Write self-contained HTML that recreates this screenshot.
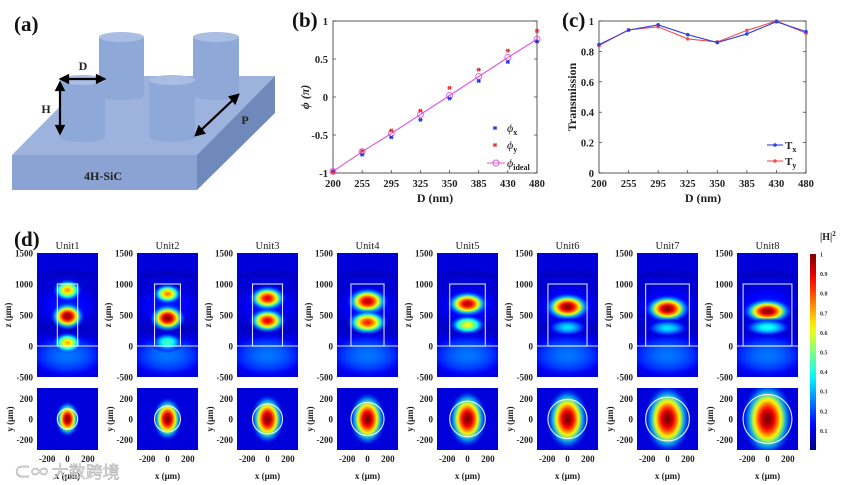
<!DOCTYPE html>
<html><head><meta charset="utf-8">
<style>
html,body{margin:0;padding:0;background:#fff;}
svg{display:block;font-family:"Liberation Serif","Noto Serif CJK SC",serif;}
.tk{font-size:10.5px;font-weight:bold;fill:#222;}
.tk9{font-size:9px;font-weight:bold;fill:#222;}
.lab{font-size:12px;font-weight:bold;fill:#222;}
.pl{font-size:21px;font-weight:bold;fill:#111;}
</style></head>
<body>
<svg id="fig" width="858" height="485" viewBox="0 0 858 485" xmlns="http://www.w3.org/2000/svg">
<defs id="defs"></defs>
<g>
<text class="pl" x="14" y="31">(a)</text>
<polygon points="12,155 90,76 275,76 197,155" fill="#9db2dc"/>
<polygon points="12,155 197,155 197,190 12,190" fill="#8aa3d3"/>
<polygon points="197,155 275,76 275,113 197,190" fill="#7089bb"/>
<g>
<rect x="99" y="37" width="45" height="58" fill="#8ea8d8"/><ellipse cx="121.5" cy="95" rx="22.5" ry="5" fill="#8ea8d8"/><ellipse cx="121.5" cy="37" rx="22.5" ry="5" fill="#aabde2"/></g>
<g>
<rect x="193" y="37" width="46" height="58" fill="#8ea8d8"/><ellipse cx="216" cy="95" rx="23" ry="5" fill="#8ea8d8"/><ellipse cx="216" cy="37" rx="23" ry="5" fill="#aabde2"/></g>
<g>
<rect x="60" y="80" width="45" height="57" fill="#8ea8d8"/><ellipse cx="82.5" cy="137" rx="22.5" ry="5" fill="#8ea8d8"/><ellipse cx="82.5" cy="80" rx="22.5" ry="5" fill="#aabde2"/></g>
<g>
<rect x="149" y="80" width="46" height="57" fill="#8ea8d8"/><ellipse cx="172" cy="137" rx="23" ry="5" fill="#8ea8d8"/><ellipse cx="172" cy="80" rx="23" ry="5" fill="#aabde2"/></g>
<g stroke="#000" stroke-width="2.2" fill="#000">
<line x1="65" y1="79" x2="100" y2="79"/><polygon points="61,79 68,75.5 68,82.5"/><polygon points="104,79 97,75.5 97,82.5"/>
<line x1="60" y1="87" x2="60" y2="129"/><polygon points="60,83 56.5,90 63.5,90"/><polygon points="60,133 56.5,126 63.5,126"/>
<line x1="199" y1="132" x2="235" y2="98"/><polygon points="196,135 199,127 204,133"/><polygon points="238,95 235,103 230,97"/>
</g>
<text class="lab" x="83" y="70" text-anchor="middle" font-size="14">D</text>
<text class="lab" x="46" y="113" text-anchor="middle" font-size="14">H</text>
<text class="lab" x="245" y="124" text-anchor="middle" font-size="14">P</text>
<text class="lab" x="103" y="180" text-anchor="middle" font-size="14" fill="#1a2a4a">4H-SiC</text>
</g>
<g id="pb">
<text class="pl" x="292" y="27">(b)</text>
</g>
<g id="pc">
<text class="pl" x="562" y="27">(c)</text>
</g>
<g id="pd">
<text class="pl" x="14" y="246">(d)</text>
</g>
<text x="14" y="478" font-size="17" fill="#ddd" fill-opacity="0.75" stroke="#999" stroke-width="0.4" font-family="Noto Sans CJK SC, sans-serif">⊂∞ 大数跨境</text>
</svg>
<script>
const NS="http://www.w3.org/2000/svg";
const categories=["200","255","295","325","350","385","430","480"];
const phiX=[-0.98,-0.76,-0.53,-0.30,-0.02,0.21,0.46,0.73];
const phiY=[-0.99,-0.71,-0.44,-0.18,0.12,0.36,0.61,0.87];
const phiIdeal=[-0.98,-0.72,-0.48,-0.23,0.02,0.27,0.52,0.76];
const phiTicks=[1,0.5,0,-0.5,-1];
const phiTickLabels=["1","0.5","0","-0.5","-1"];
const tX=[0.845,0.94,0.975,0.91,0.858,0.915,0.995,0.93];
const tY=[0.838,0.942,0.962,0.882,0.862,0.938,1.0,0.92];
const tTicks=[0,0.2,0.4,0.6,0.8,1];
const tTickLabels=["0","0.2","0.4","0.6","0.8","1"];
const unitNames=["Unit1","Unit2","Unit3","Unit4","Unit5","Unit6","Unit7","Unit8"];
const unitD=[200,255,295,325,350,385,430,480];
// lobes per unit: [z(nm), amplitude, rx(nm), rz(nm)]
const unitLobes=[
 [[900,0.72,80,100],[480,1,90,120],[50,0.7,80,95]],
 [[840,0.75,80,90],[450,1,95,120],[60,0.45,90,90]],
 [[770,0.9,100,110],[410,0.9,100,110]],
 [[720,0.95,110,120],[380,0.85,110,110]],
 [[680,0.95,110,110],[340,0.62,100,90]],
 [[630,1,120,120],[300,0.35,120,85]],
 [[600,1,120,120],[290,0.35,130,85]],
 [[560,1,130,110],[300,0.4,140,85]]
];
const zTicks=[1500,1000,500,0,-500];
const xyTicks=[-200,0,200];

function el(tag,attrs,parent,txt){const e=document.createElementNS(NS,tag);for(const k in attrs)e.setAttribute(k,attrs[k]);if(txt!==undefined)e.textContent=txt;parent.appendChild(e);return e;}
function jet(v){const c=x=>Math.round(255*Math.max(0,Math.min(1,x)));return `rgb(${c(1.5-Math.abs(4*v-3))},${c(1.5-Math.abs(4*v-2))},${c(1.5-Math.abs(4*v-1))})`;}
const defs=document.getElementById('defs');

function star(g,x,y,col,name){const s=el('g',{stroke:col,'stroke-width':1.1},g);


el('line',{x1:x-2.2,y1:y,x2:x+2.2,y2:y},s);el('line',{x1:x-1.4,y1:y-1.8,x2:x+1.4,y2:y+1.8},s);el('line',{x1:x-1.4,y1:y+1.8,x2:x+1.4,y2:y-1.8},s);}

(function(){
const g=document.getElementById('pb');
const x0=333,x1=537,yT=21,yB=173;
const xs=i=>x0+i*(x1-x0)/(categories.length-1);
const ys=v=>(yT+yB)/2-v*(yB-yT)/2;
const f=el('rect',{x:x0,y:yT,width:x1-x0,height:yB-yT,fill:'#fff',stroke:'#333','stroke-width':0.8},g);

phiTicks.forEach((v,i)=>{el('line',{x1:x0,y1:ys(v),x2:x0+3,y2:ys(v),stroke:'#333','stroke-width':0.7},g);el('line',{x1:x1,y1:ys(v),x2:x1-3,y2:ys(v),stroke:'#333','stroke-width':0.7},g);
const t=el('text',{class:'tk',x:x0-5,y:ys(v)+4,'text-anchor':'end'},g,phiTickLabels[i]);
});
categories.forEach((c,i)=>{el('line',{x1:xs(i),y1:yB,x2:xs(i),y2:yB-3,stroke:'#333','stroke-width':0.7},g);
const t=el('text',{class:'tk',x:xs(i),y:yB+14,'text-anchor':'middle'},g,c);
});
const xl=el('text',{class:'lab',x:435,y:202,'text-anchor':'middle'},g,'D (nm)');

const yl=el('text',{class:'lab',x:0,y:0,'text-anchor':'middle',transform:'translate(309,97) rotate(-90)','font-weight':'normal','font-style':'italic'},g,'ϕ (π)');

const ln=el('polyline',{points:phiIdeal.map((v,i)=>xs(i)+','+ys(v)).join(' '),fill:'none',stroke:'#e055e0','stroke-width':1.1},g);

phiIdeal.forEach((v,i)=>{const c=el('circle',{cx:xs(i),cy:ys(v),r:3,fill:'none',stroke:'#e055e0','stroke-width':0.9},g);
});
phiX.forEach((v,i)=>star(g,xs(i),ys(v),'#2233dd','phi-x-point'));
phiY.forEach((v,i)=>star(g,xs(i),ys(v),'#e03030','phi-y-point'));
star(g,495,128,'#2233dd','legend-phi-x-marker');star(g,495,145,'#e03030','legend-phi-y-marker');
el('line',{x1:487,y1:163,x2:505,y2:163,stroke:'#e055e0','stroke-width':1.1},g);el('circle',{cx:496,cy:163,r:3,fill:'none',stroke:'#e055e0'},g);
[['ϕ','x',132],['ϕ','y',149],['ϕ','ideal',167]].forEach(([a,b,y])=>{const t=el('text',{x:507,y:y,'font-size':12,'font-style':'italic',fill:'#222'},g,a);
el('tspan',{dy:3,'font-size':8,'font-weight':'bold','font-style':'normal'},t,b);
});
})();

(function(){
const g=document.getElementById('pc');
const x0=599,x1=806,yT=21,yB=173;
const xs=i=>x0+i*(x1-x0)/(categories.length-1);
const ys=v=>yB-v*(yB-yT);
const f=el('rect',{x:x0,y:yT,width:x1-x0,height:yB-yT,fill:'#fff',stroke:'#333','stroke-width':0.8},g);

tTicks.forEach((v,i)=>{el('line',{x1:x0,y1:ys(v),x2:x0+3,y2:ys(v),stroke:'#333','stroke-width':0.7},g);el('line',{x1:x1,y1:ys(v),x2:x1-3,y2:ys(v),stroke:'#333','stroke-width':0.7},g);
const t=el('text',{class:'tk',x:x0-5,y:ys(v)+4,'text-anchor':'end'},g,tTickLabels[i]);
});
categories.forEach((c,i)=>{el('line',{x1:xs(i),y1:yB,x2:xs(i),y2:yB-3,stroke:'#333','stroke-width':0.7},g);
const t=el('text',{class:'tk',x:xs(i),y:yB+14,'text-anchor':'middle'},g,c);
});
const xl=el('text',{class:'lab',x:703,y:202,'text-anchor':'middle'},g,'D (nm)');

const yl=el('text',{class:'lab',x:0,y:0,'text-anchor':'middle',transform:'translate(576,97) rotate(-90)'},g,'Transmission');

[[tY,'#f05050','ty'],[tX,'#3040e0','tx']].forEach(([arr,col,nm])=>{
const l=el('polyline',{points:arr.map((v,i)=>xs(i)+','+ys(v)).join(' '),fill:'none',stroke:col,'stroke-width':1.1},g);

arr.forEach((v,i)=>{const c=el('circle',{cx:xs(i),cy:ys(v),r:1.8,fill:col},g);
});});
[['#3040e0','x',145],['#f05050','y',161]].forEach(([col,s,y])=>{el('line',{x1:767,y1:y,x2:783,y2:y,stroke:col,'stroke-width':1.1},g);el('circle',{cx:775,cy:y,r:1.8,fill:col},g);
const t=el('text',{x:785,y:y+4,'font-size':11,'font-weight':'bold',fill:'#222'},g,'T');el('tspan',{dy:3,'font-size':8},t,s);
});
})();

(function(){
const g=document.getElementById('pd');
let gid=0;
function lobe(parent,cx,cy,rx,ry,amp,k0){const id='lg'+(gid++);const rg=el('radialGradient',{id:id},defs);
const kk=k0||1.8;
for(let k=0;k<=12;k++){const t=k/12;const v=amp*Math.exp(-kk*t*t);el('stop',{offset:t,'stop-color':jet(v),'stop-opacity':t<0.55?1:Math.max(0,(1-t)/0.45)},rg);}
return el('ellipse',{cx:cx,cy:cy,rx:rx,ry:ry,fill:'url(#'+id+')'},parent);}
const W=61,topY=253,topH=124,botY=388,botH=62;
unitNames.forEach((nm,u)=>{
const L=37+u*100;
const xp=x=>L+(x+300)/600*W;
const zp=z=>topY+(1500-z)/2000*topH;
const yp=y=>botY+(300-y)/600*botH;
const tt=el('text',{x:L+W/2,y:249,'text-anchor':'middle','font-size':10.5,fill:'#222'},g,nm);

const cp=el('clipPath',{id:'ct'+u},defs);el('rect',{x:L,y:topY,width:W,height:topH},cp);
const tg=el('g',{'clip-path':'url(#ct'+u+')'},g);

el('rect',{x:L,y:topY,width:W,height:topH,fill:jet(0.09)},tg);
lobe(tg,xp(0),zp(1000),W*0.9,topH*0.12,0.17);
lobe(tg,xp(0),zp(650),W*0.9,topH*0.3,0.15);
lobe(tg,xp(0),zp(-150),W*0.8,topH*0.22,0.24,1.2);
unitLobes[u].forEach(([z,a,rx,rz])=>{const e=lobe(tg,xp(0),zp(z),rx/600*W*1.9,rz*0.062*1.9,a);
});
const d=unitD[u];
const pr=el('rect',{x:xp(-d/2),y:zp(1000),width:d/600*W,height:zp(0)-zp(1000),fill:'none',stroke:'#fff','stroke-width':1.1,'stroke-opacity':0.85},g);

el('line',{x1:L,y1:zp(0),x2:L+W,y2:zp(0),stroke:'#fff','stroke-width':1.1,'stroke-opacity':0.85},g);
zTicks.forEach(z=>{const t=el('text',{class:'tk9',x:L-4,y:zp(z)+3.5,'text-anchor':'end'},g,String(z));
});
const zl=el('text',{class:'tk9','font-size':10,x:0,y:0,'text-anchor':'middle',transform:`translate(${L-26},${zp(500)}) rotate(-90)`},g,'z (μm)');

const cb=el('clipPath',{id:'cb'+u},defs);el('rect',{x:L,y:botY,width:W,height:botH},cb);
const bg=el('g',{'clip-path':'url(#cb'+u+')'},g);

el('rect',{x:L,y:botY,width:W,height:botH,fill:jet(0.09)},bg);
const rx=0.28*d+15,ry=rx*1.45;
lobe(bg,xp(0),yp(0),rx*1.7/600*W,ry*1.7/600*botH,1);
const ci=el('circle',{cx:xp(0),cy:yp(0),r:d/2/600*W,fill:'none',stroke:'#fff','stroke-width':1.1,'stroke-opacity':0.9},g);

xyTicks.forEach(v=>{const t=el('text',{class:'tk9',x:L-4,y:yp(v)+3.5,'text-anchor':'end'},g,String(v));

const t2=el('text',{class:'tk9',x:xp(v),y:botY+botH+12,'text-anchor':'middle'},g,String(v));
});
const yl=el('text',{class:'tk9','font-size':10,x:0,y:0,'text-anchor':'middle',transform:`translate(${L-24},${yp(0)}) rotate(-90)`},g,'y (μm)');

const xl=el('text',{class:'tk9','font-size':10,x:L+W/2,y:479,'text-anchor':'middle'},g,'x (μm)');

});
const lg=el('linearGradient',{id:'cbar',x1:0,y1:1,x2:0,y2:0},defs);
for(let k=0;k<=20;k++)el('stop',{offset:k/20,'stop-color':jet(k/20)},lg);
const cbr=el('rect',{x:810,y:254,width:6,height:196,fill:'url(#cbar)'},g);

for(let k=1;k<=10;k++){const t=el('text',{x:820,y:450-k*19.6+2.5,'font-size':6,'font-weight':'bold',fill:'#333'},g,k===10?'1':(k/10).toFixed(1));
}
const ct=el('text',{x:820,y:240,'font-size':10,'font-weight':'bold',fill:'#222'},g,'|H|');el('tspan',{dy:-4,'font-size':7},ct,'2');

})();
</script>
</body></html>
